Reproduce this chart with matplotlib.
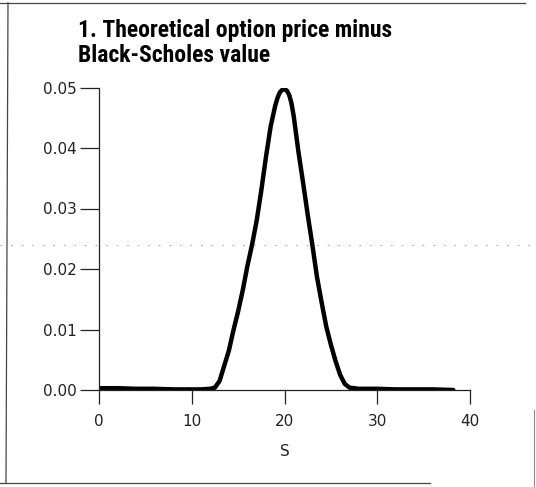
"""
Theoretical option price minus Black-Scholes value, plotted against S.
"""

import matplotlib
matplotlib.use("Agg")
import matplotlib.pyplot as plt
from matplotlib.lines import Line2D

# Values
s_values = [0, 2, 4, 6, 8, 10, 11, 12, 12.5, 13, 13.5, 14, 14.5, 15, 15.5, 16,
            16.5, 17, 17.5, 18, 18.5, 19, 19.25, 19.5, 19.75, 20, 20.25, 20.5,
            20.75, 21, 21.5, 22, 22.5, 23, 23.5, 24, 24.5, 25, 25.5, 26, 26.5,
            27, 28, 30, 32, 34, 36, 38.2]
price_diff = [0.0003, 0.0003, 0.0002, 0.0002, 0.0001, 0.0001, 0.0001, 0.0002,
              0.0004, 0.0015, 0.0040, 0.0065, 0.0099, 0.0130, 0.0165, 0.0205,
              0.0240, 0.0280, 0.0330, 0.0385, 0.0435, 0.0470, 0.0483, 0.0492,
              0.0496, 0.0497, 0.0495, 0.0488, 0.0474, 0.0452, 0.0394, 0.0343,
              0.0290, 0.0240, 0.0187, 0.0145, 0.0105, 0.0075, 0.0048, 0.0025,
              0.0010, 0.0004, 0.0002, 0.0002, 0.0001, 0.0001, 0.0001, 0.0]

x_ticks = [0, 10, 20, 30, 40]
y_ticks = [0.00, 0.01, 0.02, 0.03, 0.04, 0.05]
title_lines = ["1. Theoretical option price minus", "Black-Scholes value"]

W, H = 536, 487
fig = plt.figure(figsize=(W / 100, H / 100), dpi=100)
ax = fig.add_axes([99 / W, 1 - 390 / H, 371 / W, 302.5 / H])

ax.plot(s_values, price_diff, color="black", linewidth=3.2,
        solid_capstyle="round", solid_joinstyle="round")

ax.set_xlim(0, 40)
ax.set_ylim(0, 0.05)
ax.set_xticks(x_ticks)
ax.set_yticks(y_ticks)
ax.set_xticklabels([str(t) for t in x_ticks])
ax.set_yticklabels([f"{t:.2f}" for t in y_ticks])

for side in ["top", "right"]:
    ax.spines[side].set_visible(False)
for side in ["left", "bottom"]:
    ax.spines[side].set_linewidth(0.9)
    ax.spines[side].set_color("#222222")

ax.tick_params(axis="y", direction="out", length=14, width=0.9, color="#222222",
               pad=2, labelsize=11, labelcolor="#222222")
ax.tick_params(axis="x", direction="out", length=10, width=0.9, color="#222222",
               pad=7, labelsize=11, labelcolor="#222222")
ax.set_xlabel("S", fontsize=11, color="#222222", labelpad=11)

# Title, two lines in a condensed bold face
title_font = ["Roboto Condensed", "DejaVu Sans"]
fig.text(78 / W, 1 - 37 / H, title_lines[0], fontsize=17, fontweight="bold",
         family=title_font, va="baseline", ha="left")
fig.text(78 / W, 1 - 62 / H, title_lines[1], fontsize=17, fontweight="bold",
         family=title_font, va="baseline", ha="left")

# Frame around the figure, and the faint dotted fold line
frame = dict(color="#444444", linewidth=0.9, transform=fig.transFigure)
fig.add_artist(Line2D([0, 525 / W], [1 - 3 / H, 1 - 3 / H], **frame))
fig.add_artist(Line2D([8 / W, 6 / W], [1 - 3 / H, 1 - 483 / H], **frame))
fig.add_artist(Line2D([0, 430 / W], [1 - 483 / H, 1 - 483 / H], **frame))
fig.add_artist(Line2D([534 / W, 534 / W], [1 - 410 / H, 0], color="#888888",
                      linewidth=0.8, transform=fig.transFigure))
fig.add_artist(Line2D([0, 1], [1 - 245 / H, 1 - 245 / H], color="#aaaaaa",
                      linewidth=0.8, linestyle=(0, (1.5, 8)),
                      transform=fig.transFigure))

fig.savefig("out.png", dpi=100)
